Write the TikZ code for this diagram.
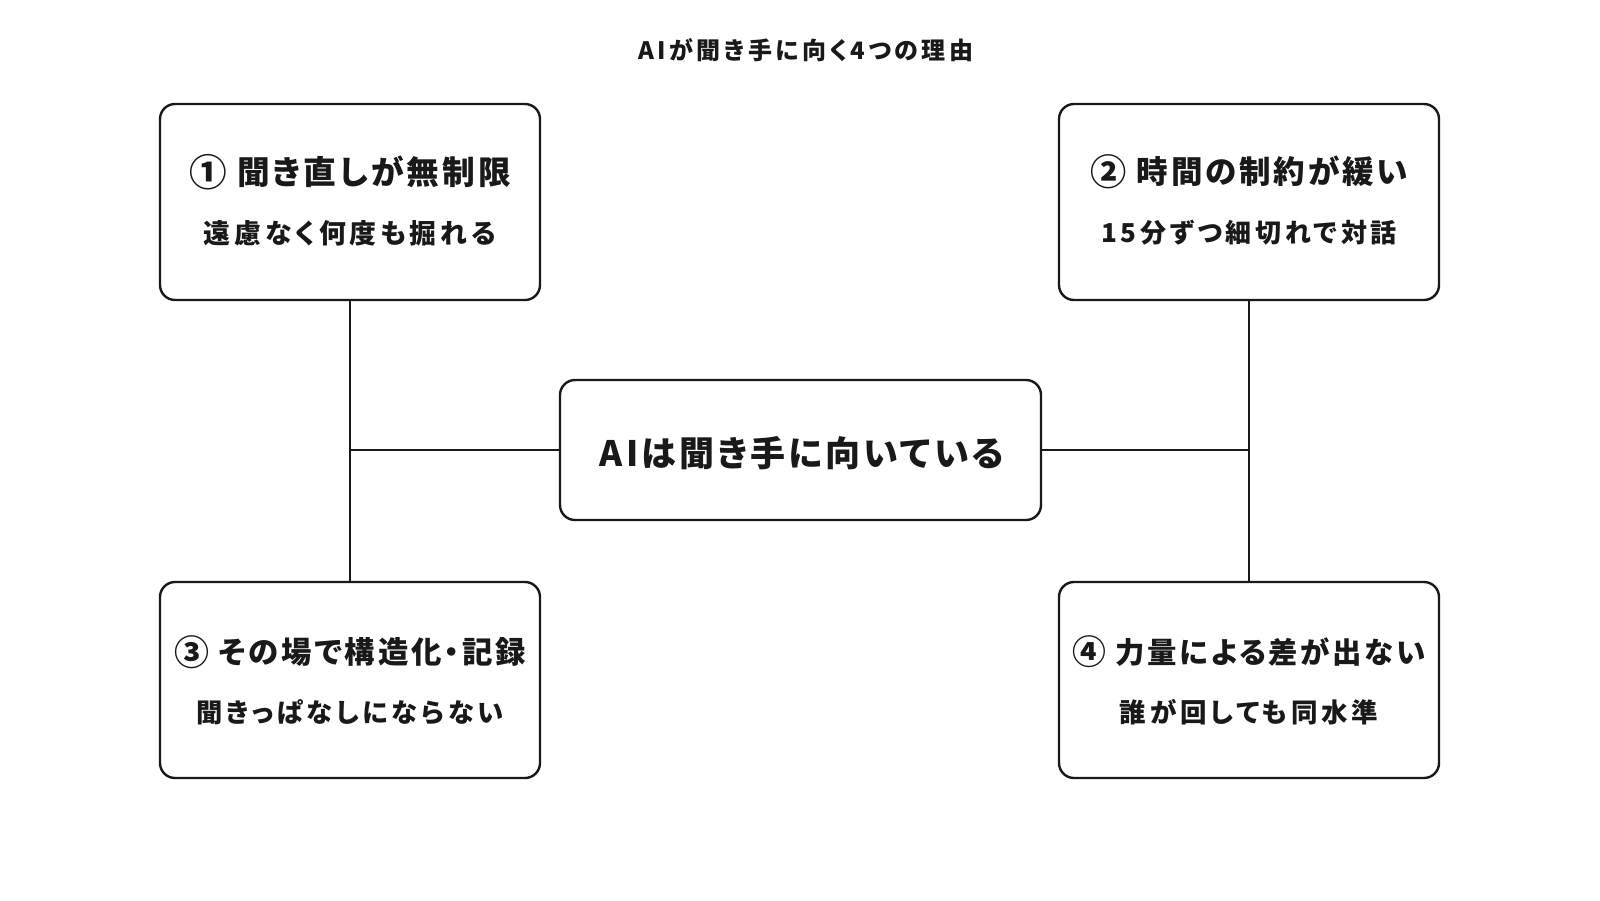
\documentclass[tikz,border=0pt]{standalone}
\usepackage{fontspec}
\newfontfamily\jph{Noto Sans CJK JP}[RawFeature=+palt, LetterSpace=9]
\newfontfamily\jps{Noto Sans CJK JP}[RawFeature=+palt, LetterSpace=14]
\newfontfamily\jpt{Noto Sans CJK JP}[RawFeature=+palt, LetterSpace=14]
\newcommand{\circnum}[1]{\raisebox{-0.06em}{\scalebox{1.15}{#1}}}
\begin{document}
\begin{tikzpicture}[x=1pt,y=-1pt,
  card/.style={draw=black!90, line width=2.4pt, rounded corners=15pt, minimum width=380pt, minimum height=196pt, inner sep=0pt},
  hub/.style={draw=black!90, line width=2.4pt, rounded corners=15pt, minimum width=481pt, minimum height=140pt, inner sep=0pt},
  head/.style={font=\jph\bfseries\fontsize{#1}{36}\selectfont, inner sep=0pt, text=black!90},
  sub/.style={font=\jps\bfseries\fontsize{#1}{30}\selectfont, inner sep=0pt, text=black!90},
  link/.style={draw=black!90, line width=2.2pt}]
\useasboundingbox (0,0) rectangle (1600,900);
\fill[white] (0,0) rectangle (1600,900);
\node[font=\jpt\bfseries\fontsize{24}{26}\selectfont, text=black!90] (title) at (806,50) {AIが聞き手に向く4つの理由};
\node[hub] (c) at (800.5,450) {};
\node[font=\jph\bfseries\fontsize{35}{40}\selectfont, inner sep=0pt, text=black!90] (ct) at (802,453) {AIは聞き手に向いている};
\node[card] (b1) at (350,202) {};
\node[card] (b2) at (1249,202) {};
\node[card] (b3) at (350,680) {};
\node[card] (b4) at (1249,680) {};
\node[head=32.7] (h1) at (350,172) {\circnum{①} 聞き直しが無制限};
\node[sub=26.9] (s1) at (350,233) {遠慮なく何度も掘れる};
\node[head=31.5] (h2) at (1249,172) {\circnum{②} 時間の制約が緩い};
\node[sub=26] (s2) at (1249,233) {15分ずつ細切れで対話};
\node[head=30.4] (h3) at (350,652) {\circnum{③} その場で構造化・記録};
\node[sub=26.3] (s3) at (350,712) {聞きっぱなしにならない};
\node[head=29.4] (h4) at (1249,652) {\circnum{④} 力量による差が出ない};
\node[sub=26.5] (s4) at (1249,712) {誰が回しても同水準};
\coordinate (jl) at (b1.south |- c.west);
\coordinate (jr) at (b2.south |- c.east);
\draw[link] (b1.south) -- (b3.north);
\draw[link] (b2.south) -- (b4.north);
\draw[link] (jl) -- (c.west);
\draw[link] (c.east) -- (jr);
\end{tikzpicture}
\end{document}
